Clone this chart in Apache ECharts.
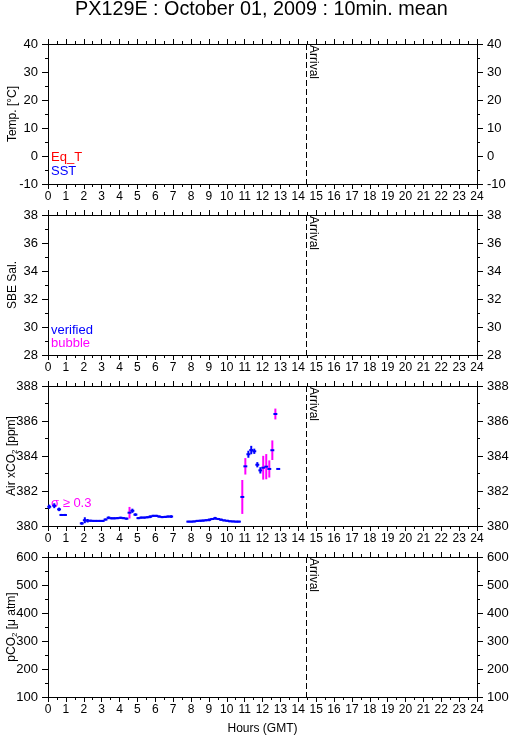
<!DOCTYPE html>
<html>
<head>
<meta charset="utf-8">
<script src="https://cdn.jsdelivr.net/npm/echarts@6/dist/echarts.min.js"></script>
<style>
  html, body { margin: 0; padding: 0; background: #fff; }
  #chart { width: 509px; height: 739px; }
</style>
</head>
<body>
<div id="chart"></div>
<script>
const FONT = '"Liberation Sans", Arial, Helvetica, sans-serif';

// panels (top to bottom)
const panelNames = ['Temp. [°C]', 'SBE Sal.', 'Air xCO{sub|2} [ppm]', 'pCO{sub|2} [μ atm]'];
const panelMin = [-10, 28, 380, 100];
const panelMax = [40, 38, 388, 600];
const panelStep = [10, 2, 2, 100];
const panelTop = [44, 215, 386, 557];

const arrivalHour = 14.43;
const sigmaLimit = 0.3;

// Air xCO2, 10 min means
const airHours = [
  0.07, 0.35, 0.62, 0.75, 0.95,
  1.89, 2.06, 2.22, 2.39, 2.56, 2.72, 2.89, 3.06, 3.22, 3.39, 3.56, 3.72, 3.89, 4.06, 4.22, 4.39,
  4.56, 4.72, 4.89, 5.06, 5.22, 5.39, 5.56, 5.72, 5.89, 6.06, 6.22, 6.39, 6.56, 6.72, 6.89,
  7.85, 8.02, 8.18, 8.35, 8.52, 8.68, 8.85, 9.02, 9.18, 9.35, 9.52, 9.68, 9.85, 10.02, 10.18, 10.35, 10.52, 10.68,
  10.87, 11.04, 11.21, 11.37, 11.54, 11.71, 11.88, 12.04, 12.21, 12.38, 12.55, 12.72, 12.88
];
const airXco2 = [
  381.10, 381.16, 380.95, 380.63, 380.63,
  380.15, 380.33, 380.30, 380.30, 380.29, 380.29, 380.29, 380.29, 380.37, 380.47, 380.44, 380.44, 380.45, 380.47, 380.45, 380.42,
  380.76, 380.87, 380.65, 380.45, 380.48, 380.48, 380.50, 380.53, 380.58, 380.58, 380.54, 380.51, 380.52, 380.54, 380.54,
  380.25, 380.25, 380.26, 380.29, 380.30, 380.31, 380.33, 380.35, 380.40, 380.44, 380.40, 380.36, 380.32, 380.30, 380.27, 380.26, 380.25, 380.25,
  381.66, 383.41, 384.10, 384.34, 384.27, 383.50, 383.18, 383.33, 383.39, 383.26, 384.33, 386.40, 383.26
];
const airSigma = [
  0.12, 0.14, 0.10, 0.06, 0.06,
  0.08, 0.17, 0.10, 0.06, 0.06, 0.06, 0.06, 0.06, 0.06, 0.08, 0.06, 0.06, 0.06, 0.06, 0.06, 0.06,
  0.33, 0.12, 0.08, 0.06, 0.06, 0.06, 0.06, 0.08, 0.06, 0.06, 0.06, 0.06, 0.06, 0.06, 0.08,
  0.05, 0.05, 0.05, 0.06, 0.06, 0.06, 0.06, 0.08, 0.06, 0.08, 0.06, 0.06, 0.05, 0.05, 0.05, 0.05, 0.05, 0.05,
  0.97, 0.47, 0.20, 0.24, 0.15, 0.15, 0.18, 0.68, 0.72, 0.49, 0.56, 0.31, 0.00
];

const chart = echarts.init(document.getElementById('chart'));

const black = { color: '#000', width: 1 };

function hourAxis(i, position) {
  const bottom = position === 'bottom';
  return {
    gridIndex: i,
    type: 'value',
    position,
    min: 0,
    max: 24,
    interval: 1,
    axisLine: { onZero: false, lineStyle: black },
    axisTick: { length: 5, lineStyle: black },
    minorTick: { show: true, splitNumber: 2, length: 3, lineStyle: black },
    axisLabel: { show: bottom, color: '#000', fontSize: 12, fontFamily: FONT, margin: 7 },
    splitLine: { show: false },
    name: bottom && i === 3 ? 'Hours (GMT)' : '',
    nameLocation: 'middle',
    nameGap: 26,
    nameMoveOverlap: false,
    nameTextStyle: { color: '#000', fontSize: 12, fontFamily: FONT }
  };
}

function valueAxis(i, position) {
  const left = position === 'left';
  return {
    gridIndex: i,
    type: 'value',
    position,
    min: panelMin[i],
    max: panelMax[i],
    interval: panelStep[i],
    axisLine: { onZero: false, lineStyle: black },
    axisTick: { length: 6, lineStyle: black },
    minorTick: { show: true, splitNumber: 2, length: 3, lineStyle: black },
    axisLabel: { color: '#000', fontSize: 13, fontFamily: FONT, margin: 10 },
    splitLine: { show: false },
    name: left ? panelNames[i] : '',
    nameLocation: 'middle',
    nameGap: 29,
    nameMoveOverlap: false,
    nameTextStyle: {
      color: '#000', fontSize: 12, fontFamily: FONT,
      rich: { sub: { fontSize: 8, fontFamily: FONT, color: '#000', padding: [6, 0, 0, 0] } }
    }
  };
}

const grids = [], xAxes = [], yAxes = [], series = [];
panelTop.forEach((top, i) => {
  grids.push({ left: 48, right: 32, top, height: 140, outerBoundsMode: 'none', containLabel: false });
  xAxes.push(hourAxis(i, 'bottom'), hourAxis(i, 'top'));
  yAxes.push(valueAxis(i, 'left'), valueAxis(i, 'right'));
  series.push({
    type: 'custom',
    xAxisIndex: 2 * i,
    yAxisIndex: 2 * i,
    clip: false,
    silent: true,
    data: [[arrivalHour, panelMin[i]]],
    renderItem: (params, api) => {
      const cs = params.coordSys;
      const x = Math.round(api.coord([api.value(0), api.value(1)])[0]) + 0.5;
      return {
        type: 'group',
        children: [
          { type: 'line', shape: { x1: x, y1: cs.y, x2: x, y2: cs.y + cs.height },
            style: { stroke: '#000', lineWidth: 1, lineDash: [6, 3] } },
          { type: 'text', x: x + 1, y: cs.y + 1, rotation: -Math.PI / 2,
            style: { text: 'Arrival', fontSize: 12, fontFamily: FONT, fill: '#000', align: 'left', verticalAlign: 'bottom' } }
        ]
      };
    }
  });
});

// Air xCO2 with std-dev bars
series.push({
  type: 'custom',
  xAxisIndex: 4,
  yAxisIndex: 4,
  silent: true,
  data: airHours.map((h, k) => [h, airXco2[k], airSigma[k]]),
  renderItem: (params, api) => {
    const t = api.value(0), v = api.value(1), s = api.value(2);
    const half = 0.11;
    const a = api.coord([t - half, v]), b = api.coord([t + half, v]);
    const hi = api.coord([t, v + s]), lo = api.coord([t, v - s]);
    return {
      type: 'group',
      children: [
        { type: 'line', shape: { x1: hi[0], y1: hi[1], x2: lo[0], y2: lo[1] },
          style: { stroke: s >= sigmaLimit ? '#ff00ff' : '#0000ff', lineWidth: 2 } },
        { type: 'line', shape: { x1: a[0], y1: a[1], x2: b[0], y2: b[1] },
          style: { stroke: '#0000ff', lineWidth: 2 } }
      ]
    };
  }
});

const legendText = (text, left, top, fill) => ({
  type: 'text', left, top,
  style: { text, fill, fontSize: 13, fontFamily: FONT }
});

chart.setOption({
  animation: false,
  title: {
    text: 'PX129E : October 01, 2009 : 10min. mean',
    left: 75, top: 0, padding: 0,
    textStyle: { fontSize: 19.8, fontWeight: 'normal', fontFamily: FONT, color: '#000' }
  },
  grid: grids,
  xAxis: xAxes,
  yAxis: yAxes,
  series,
  graphic: [
    legendText('Eq_T', 51, 151, '#ff0000'),
    legendText('SST', 51, 165, '#0000ff'),
    legendText('verified', 51, 324, '#0000ff'),
    legendText('bubble', 51, 337, '#ff00ff'),
    legendText('σ ≥ 0.3', 51, 497, '#ff00ff')
  ]
});
</script>
</body>
</html>
